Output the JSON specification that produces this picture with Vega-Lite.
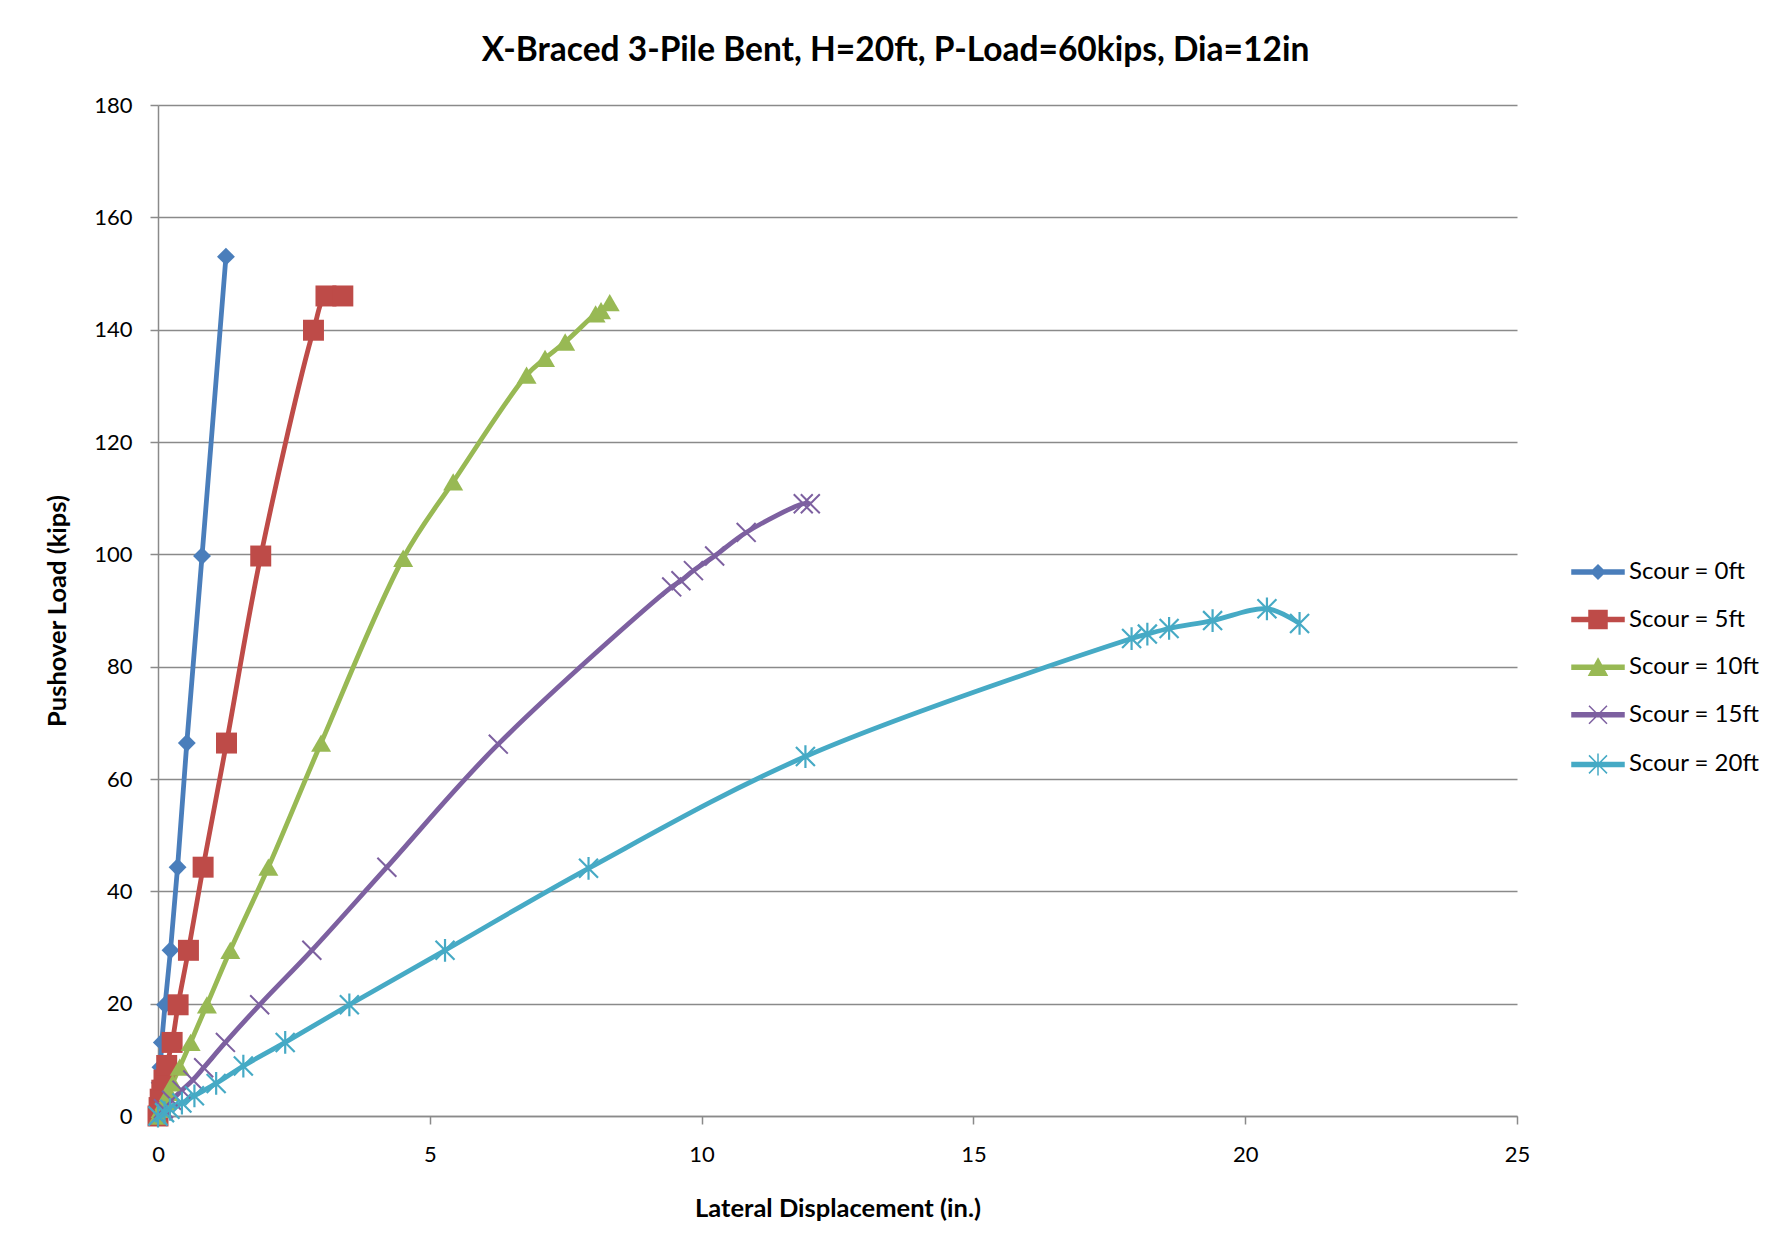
{
  "$schema": "https://vega.github.io/schema/vega-lite/v6.json",
  "width": 1359,
  "height": 1011,
  "autosize": {"type": "none"},
  "padding": {"left": 158, "top": 105, "right": 274, "bottom": 140},
  "background": "white",
  "title": {
    "text": "X-Braced 3-Pile Bent, H=20ft, P-Load=60kips, Dia=12in",
    "font": "Lato",
    "fontSize": 33.5,
    "fontWeight": "bold",
    "color": "#000000",
    "frame": "group",
    "anchor": "middle",
    "dx": 58,
    "offset": 26
  },
  "config": {
    "view": {"stroke": null},
    "axis": {
      "labelFont": "Lato",
      "labelFontSize": 22,
      "labelColor": "#000000",
      "labelFlush": false,
      "titleFont": "Lato",
      "titleFontSize": 25.5,
      "titleFontWeight": "bold",
      "titleColor": "#000000",
      "domainColor": "#8a8a8a",
      "domainWidth": 1.5,
      "tickColor": "#8a8a8a",
      "tickWidth": 1.5,
      "tickSize": 8,
      "gridColor": "#8a8a8a",
      "gridWidth": 1.5
    }
  },
  "data": {
    "values": [
      {"s": "Scour = 0ft", "x": 0, "y": 0},
      {"s": "Scour = 0ft", "x": 0.005, "y": 1.0},
      {"s": "Scour = 0ft", "x": 0.01, "y": 2.2},
      {"s": "Scour = 0ft", "x": 0.02, "y": 3.6},
      {"s": "Scour = 0ft", "x": 0.03, "y": 5.9},
      {"s": "Scour = 0ft", "x": 0.045, "y": 8.7},
      {"s": "Scour = 0ft", "x": 0.07, "y": 13.1},
      {"s": "Scour = 0ft", "x": 0.13, "y": 19.8},
      {"s": "Scour = 0ft", "x": 0.23, "y": 29.5},
      {"s": "Scour = 0ft", "x": 0.36, "y": 44.3},
      {"s": "Scour = 0ft", "x": 0.53, "y": 66.4},
      {"s": "Scour = 0ft", "x": 0.81, "y": 99.7},
      {"s": "Scour = 0ft", "x": 1.25, "y": 153.0},
      {"s": "Scour = 5ft", "x": 0, "y": 0},
      {"s": "Scour = 5ft", "x": 0.02, "y": 1.5},
      {"s": "Scour = 5ft", "x": 0.04, "y": 3.0},
      {"s": "Scour = 5ft", "x": 0.07, "y": 4.6},
      {"s": "Scour = 5ft", "x": 0.11, "y": 6.4},
      {"s": "Scour = 5ft", "x": 0.16, "y": 9.0},
      {"s": "Scour = 5ft", "x": 0.26, "y": 13.1},
      {"s": "Scour = 5ft", "x": 0.37, "y": 19.8},
      {"s": "Scour = 5ft", "x": 0.56, "y": 29.5},
      {"s": "Scour = 5ft", "x": 0.83, "y": 44.3},
      {"s": "Scour = 5ft", "x": 1.26, "y": 66.4},
      {"s": "Scour = 5ft", "x": 1.89, "y": 99.7},
      {"s": "Scour = 5ft", "x": 2.86, "y": 139.9},
      {"s": "Scour = 5ft", "x": 3.09, "y": 146.0},
      {"s": "Scour = 5ft", "x": 3.40, "y": 146.0},
      {"s": "Scour = 10ft", "x": 0, "y": 0},
      {"s": "Scour = 10ft", "x": 0.05, "y": 1.2},
      {"s": "Scour = 10ft", "x": 0.12, "y": 2.6},
      {"s": "Scour = 10ft", "x": 0.2, "y": 4.2},
      {"s": "Scour = 10ft", "x": 0.27, "y": 5.9},
      {"s": "Scour = 10ft", "x": 0.40, "y": 8.7},
      {"s": "Scour = 10ft", "x": 0.60, "y": 13.1},
      {"s": "Scour = 10ft", "x": 0.90, "y": 19.8},
      {"s": "Scour = 10ft", "x": 1.33, "y": 29.5},
      {"s": "Scour = 10ft", "x": 2.03, "y": 44.3},
      {"s": "Scour = 10ft", "x": 3.0, "y": 66.4},
      {"s": "Scour = 10ft", "x": 4.51, "y": 99.3},
      {"s": "Scour = 10ft", "x": 5.43, "y": 112.9},
      {"s": "Scour = 10ft", "x": 6.78, "y": 131.9},
      {"s": "Scour = 10ft", "x": 7.12, "y": 134.9},
      {"s": "Scour = 10ft", "x": 7.49, "y": 137.8},
      {"s": "Scour = 10ft", "x": 8.05, "y": 142.8},
      {"s": "Scour = 10ft", "x": 8.15, "y": 143.4},
      {"s": "Scour = 10ft", "x": 8.31, "y": 144.8},
      {"s": "Scour = 15ft", "x": 0, "y": 0},
      {"s": "Scour = 15ft", "x": 0.1, "y": 1.3},
      {"s": "Scour = 15ft", "x": 0.25, "y": 2.8},
      {"s": "Scour = 15ft", "x": 0.44, "y": 4.6},
      {"s": "Scour = 15ft", "x": 0.64, "y": 6.4},
      {"s": "Scour = 15ft", "x": 0.84, "y": 8.6},
      {"s": "Scour = 15ft", "x": 1.24, "y": 13.1},
      {"s": "Scour = 15ft", "x": 1.87, "y": 19.8},
      {"s": "Scour = 15ft", "x": 2.83, "y": 29.5},
      {"s": "Scour = 15ft", "x": 4.21, "y": 44.3},
      {"s": "Scour = 15ft", "x": 6.26, "y": 66.2},
      {"s": "Scour = 15ft", "x": 9.45, "y": 94.2},
      {"s": "Scour = 15ft", "x": 9.62, "y": 95.3},
      {"s": "Scour = 15ft", "x": 9.85, "y": 97.1},
      {"s": "Scour = 15ft", "x": 10.24, "y": 99.7},
      {"s": "Scour = 15ft", "x": 10.82, "y": 103.9},
      {"s": "Scour = 15ft", "x": 11.87, "y": 109.0},
      {"s": "Scour = 15ft", "x": 12.0, "y": 109.0},
      {"s": "Scour = 20ft", "x": 0, "y": 0},
      {"s": "Scour = 20ft", "x": 0.12, "y": 0.6},
      {"s": "Scour = 20ft", "x": 0.22, "y": 1.2},
      {"s": "Scour = 20ft", "x": 0.44, "y": 2.3},
      {"s": "Scour = 20ft", "x": 0.67, "y": 3.6},
      {"s": "Scour = 20ft", "x": 1.07, "y": 5.8},
      {"s": "Scour = 20ft", "x": 1.57, "y": 8.9},
      {"s": "Scour = 20ft", "x": 2.34, "y": 13.1},
      {"s": "Scour = 20ft", "x": 3.52, "y": 19.8},
      {"s": "Scour = 20ft", "x": 5.28, "y": 29.5},
      {"s": "Scour = 20ft", "x": 7.92, "y": 44.1},
      {"s": "Scour = 20ft", "x": 11.91, "y": 64.0},
      {"s": "Scour = 20ft", "x": 17.91, "y": 85.0},
      {"s": "Scour = 20ft", "x": 18.2, "y": 85.8},
      {"s": "Scour = 20ft", "x": 18.6, "y": 86.8},
      {"s": "Scour = 20ft", "x": 19.4, "y": 88.2},
      {"s": "Scour = 20ft", "x": 20.4, "y": 90.3},
      {"s": "Scour = 20ft", "x": 21.0, "y": 87.7}
    ]
  },
  "encoding": {
    "x": {
      "field": "x",
      "type": "quantitative",
      "scale": {"domain": [0, 25], "nice": false},
      "axis": {
        "values": [0, 5, 10, 15, 20, 25],
        "grid": false,
        "labelPadding": 20,
        "title": "Lateral Displacement (in.)",
        "titlePadding": 31
      }
    },
    "y": {
      "field": "y",
      "type": "quantitative",
      "scale": {"domain": [0, 180], "nice": false},
      "axis": {
        "values": [0, 20, 40, 60, 80, 100, 120, 140, 160, 180],
        "grid": true,
        "labelPadding": 18,
        "title": "Pushover Load (kips)",
        "titlePadding": 23
      }
    }
  },
  "layer": [
    {
      "mark": {"type": "line", "strokeWidth": 4.8, "interpolate": "catmull-rom"},
      "encoding": {
        "color": {
          "field": "s",
          "type": "nominal",
          "scale": {
            "domain": ["Scour = 0ft", "Scour = 5ft", "Scour = 10ft", "Scour = 15ft", "Scour = 20ft"],
            "range": ["#4A7EBB", "#BE4B48", "#98B954", "#7D60A0", "#46AAC5"]
          },
          "legend": {
            "title": null,
            "orient": "none",
            "legendX": 1428,
            "legendY": 455,
            "padding": 0,
            "labelFont": "Lato",
            "labelFontSize": 24,
            "labelColor": "#000000",
            "labelOffset": 19,
            "rowPadding": 23.6,
            "symbolSize": 400,
            "symbolStrokeWidth": 1.5,
            "encoding": {
              "symbols": {
                "shape": {"value": {"expr": "datum.value === 'Scour = 0ft' ? 'M-2.6,-0.2H2.6V0.2H-2.6ZM0,-0.7L0.7,0L0,0.7L-0.7,0Z' : datum.value === 'Scour = 5ft' ? 'M-2.6,-0.2H2.6V0.2H-2.6ZM-0.9,-0.9H0.9V0.9H-0.9Z' : datum.value === 'Scour = 10ft' ? 'M-2.6,-0.2H2.6V0.2H-2.6ZM0,-0.85L0.9,0.8L-0.9,0.8Z' : datum.value === 'Scour = 15ft' ? 'M-2.6,-0.2H2.6V0.2H-2.6ZM-0.9,-0.9L0.9,0.9M-0.9,0.9L0.9,-0.9' : 'M-2.6,-0.2H2.6V0.2H-2.6ZM-0.9,-0.9L0.9,0.9M-0.9,0.9L0.9,-0.9M0,-1.1L0,1.1'"}},
                "fill": {"value": {"expr": "scale('color', datum.value)"}},
                "stroke": {"value": {"expr": "scale('color', datum.value)"}},
                "strokeWidth": {"value": 1.5},
                "size": {"value": 400},
                "opacity": {"value": 1}
              }
            }
          }
        }
      }
    },
    {
      "transform": [{"filter": "datum.s === 'Scour = 0ft'"}],
      "mark": {"type": "point", "shape": "diamond", "filled": true, "opacity": 1, "color": "#4A7EBB", "size": 320}
    },
    {
      "transform": [{"filter": "datum.s === 'Scour = 5ft'"}],
      "mark": {"type": "point", "shape": "square", "filled": true, "opacity": 1, "color": "#BE4B48", "size": 440}
    },
    {
      "transform": [{"filter": "datum.s === 'Scour = 10ft'"}],
      "mark": {"type": "point", "shape": "triangle-up", "filled": true, "opacity": 1, "color": "#98B954", "size": 400}
    },
    {
      "transform": [{"filter": "datum.s === 'Scour = 15ft'"}],
      "mark": {"type": "point", "shape": "M-1,-1L1,1M-1,1L1,-1", "filled": false, "opacity": 1, "color": "#7D60A0", "strokeWidth": 2, "size": 360}
    },
    {
      "transform": [{"filter": "datum.s === 'Scour = 20ft'"}],
      "mark": {"type": "point", "shape": "M-1,-1L1,1M-1,1L1,-1M0,-1.2L0,1.2", "filled": false, "opacity": 1, "color": "#46AAC5", "strokeWidth": 2.2, "size": 360}
    }
  ]
}
